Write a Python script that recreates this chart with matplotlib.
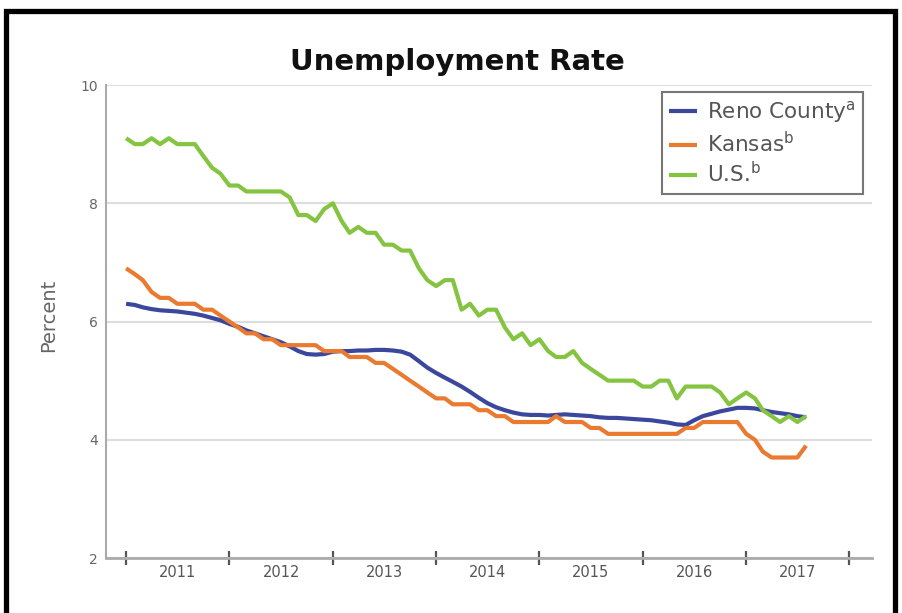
import matplotlib
matplotlib.use("Agg")
import matplotlib.pyplot as plt
from matplotlib.patches import Rectangle
import pandas as pd

# Monatswerte Jan 2011 - Aug 2017
months = pd.date_range("2011-01-01", periods=80, freq="MS")

reno = [6.30, 6.28, 6.24, 6.21, 6.19, 6.18, 6.17, 6.15, 6.13, 6.10, 6.06, 6.02,
        5.96, 5.91, 5.85, 5.80, 5.75, 5.70, 5.65, 5.58, 5.50, 5.45, 5.44, 5.45,
        5.49, 5.50, 5.50, 5.51, 5.51, 5.52, 5.52, 5.51, 5.49, 5.44, 5.33, 5.22,
        5.13, 5.05, 4.98, 4.90, 4.81, 4.71, 4.62, 4.55, 4.50, 4.46, 4.43, 4.42,
        4.42, 4.41, 4.42, 4.43, 4.42, 4.41, 4.40, 4.38, 4.37, 4.37, 4.36, 4.35,
        4.34, 4.33, 4.31, 4.29, 4.26, 4.25, 4.33, 4.40, 4.44, 4.48, 4.51, 4.54,
        4.54, 4.53, 4.50, 4.47, 4.45, 4.43, 4.40, 4.38]

kansas = [6.9, 6.8, 6.7, 6.5, 6.4, 6.4, 6.3, 6.3, 6.3, 6.2, 6.2, 6.1,
          6.0, 5.9, 5.8, 5.8, 5.7, 5.7, 5.6, 5.6, 5.6, 5.6, 5.6, 5.5,
          5.5, 5.5, 5.4, 5.4, 5.4, 5.3, 5.3, 5.2, 5.1, 5.0, 4.9, 4.8,
          4.7, 4.7, 4.6, 4.6, 4.6, 4.5, 4.5, 4.4, 4.4, 4.3, 4.3, 4.3,
          4.3, 4.3, 4.4, 4.3, 4.3, 4.3, 4.2, 4.2, 4.1, 4.1, 4.1, 4.1,
          4.1, 4.1, 4.1, 4.1, 4.1, 4.2, 4.2, 4.3, 4.3, 4.3, 4.3, 4.3,
          4.1, 4.0, 3.8, 3.7, 3.7, 3.7, 3.7, 3.9]

us = [9.1, 9.0, 9.0, 9.1, 9.0, 9.1, 9.0, 9.0, 9.0, 8.8, 8.6, 8.5,
      8.3, 8.3, 8.2, 8.2, 8.2, 8.2, 8.2, 8.1, 7.8, 7.8, 7.7, 7.9,
      8.0, 7.7, 7.5, 7.6, 7.5, 7.5, 7.3, 7.3, 7.2, 7.2, 6.9, 6.7,
      6.6, 6.7, 6.7, 6.2, 6.3, 6.1, 6.2, 6.2, 5.9, 5.7, 5.8, 5.6,
      5.7, 5.5, 5.4, 5.4, 5.5, 5.3, 5.2, 5.1, 5.0, 5.0, 5.0, 5.0,
      4.9, 4.9, 5.0, 5.0, 4.7, 4.9, 4.9, 4.9, 4.9, 4.8, 4.6, 4.7,
      4.8, 4.7, 4.5, 4.4, 4.3, 4.4, 4.3, 4.4]

labels = ["Reno County$^{\\mathrm{a}}$", "Kansas$^{\\mathrm{b}}$", "U.S.$^{\\mathrm{b}}$"]
colors = ["#3b479c", "#ea7a30", "#84c441"]
years = list(range(2011, 2019))
y_ticks = [2, 4, 6, 8, 10]

fig = plt.figure(figsize=(9.03, 6.13), dpi=100)
ax = fig.add_axes([0.1174, 0.0897, 0.8483, 0.7716])

for series, label, color in zip([reno, kansas, us], labels, colors):
    ax.plot(months, series, color=color, lw=3.0, label=label, solid_capstyle="butt")

# Achsen
ax.set_ylim(2, 10)
ax.set_yticks(y_ticks)
ax.set_xlim(pd.Timestamp("2010-10-22"), pd.Timestamp("2018-03-22"))

# Striche an den Jahresgrenzen, Jahreszahlen dazwischen
year_ticks = [pd.Timestamp(f"{y}-01-01") for y in years]
mid_ticks = [pd.Timestamp(f"{y}-07-02") for y in years[:-1]]
ax.set_xticks(year_ticks)
ax.set_xticklabels([])
ax.set_xticks(mid_ticks, minor=True)
ax.set_xticklabels([str(y) for y in years[:-1]], minor=True)

ax.tick_params(axis="x", which="major", direction="inout", length=10, width=1.6, color="#555555")
ax.tick_params(axis="x", which="minor", length=0, pad=5, labelsize=10.5, labelcolor="#555555")
ax.tick_params(axis="y", length=0, pad=6, labelsize=10, labelcolor="#666666")

ax.grid(axis="y", color="#dddddd", lw=1.5)
ax.set_axisbelow(True)
for side in ["top", "right"]:
    ax.spines[side].set_visible(False)
ax.spines["left"].set_color("#aaaaaa")
ax.spines["left"].set_linewidth(1.5)
ax.spines["bottom"].set_color("#aaaaaa")
ax.spines["bottom"].set_linewidth(2)

# Titel und Beschriftung
fig.text(0.506, 0.899, "Unemployment Rate", ha="center", va="center",
         fontsize=21, fontweight="bold", color="#111111")
fig.text(0.054, 0.486, "Percent", rotation=90, ha="center", va="center",
         fontsize=14, color="#666666")

leg = ax.legend(loc="upper right", bbox_to_anchor=(0.9557, 0.850),
                bbox_transform=fig.transFigure, borderaxespad=0,
                fancybox=False, edgecolor="#777777", framealpha=1,
                fontsize=15.5, handlelength=1.3, handletextpad=0.45,
                labelspacing=0.25, borderpad=0.35)
leg.get_frame().set_linewidth(1.5)
for text in leg.get_texts():
    text.set_color("#555555")

# schwarzer Rahmen
fig.patches.append(Rectangle((6.5 / 903, -0.05), (895 - 6.5) / 903, 1.05 - 10.5 / 613,
                             transform=fig.transFigure, fill=False,
                             edgecolor="black", lw=3.8, clip_on=False))

fig.savefig("out.png", dpi=100)
